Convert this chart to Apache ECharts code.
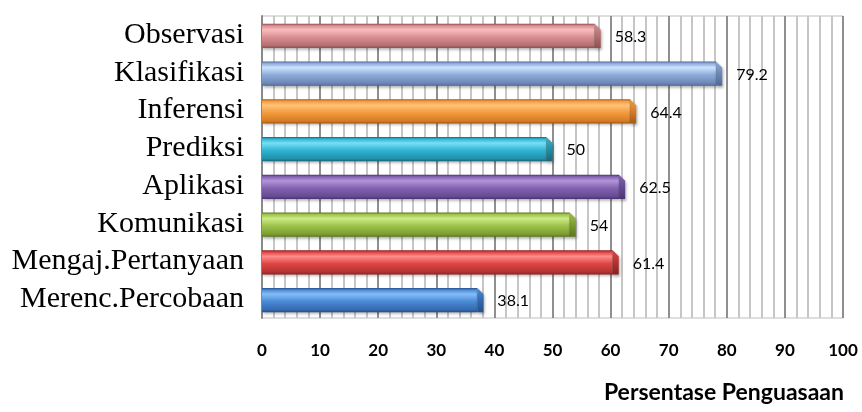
<!DOCTYPE html>
<html>
<head>
<meta charset="utf-8">
<script src="https://cdn.jsdelivr.net/npm/echarts@6/dist/echarts.min.js"></script>
<style>
  html, body { margin: 0; padding: 0; background: #fff; }
  #chart { width: 862px; height: 412px; }
</style>
</head>
<body>
<div id="chart"></div>
<script>
// Aspects of science process skills (top to bottom)
const categories = [
  'Observasi', 'Klasifikasi', 'Inferensi', 'Prediksi',
  'Aplikasi', 'Komunikasi', 'Mengaj.Pertanyaan', 'Merenc.Percobaan'
];
// Mastery percentage per aspect
const values = [58.3, 79.2, 64.4, 50, 62.5, 54, 61.4, 38.1];
// Axis tick values
const xTicks = [0, 10, 20, 30, 40, 50, 60, 70, 80, 90, 100];

// Bar shading: [highlight, middle, bottom, edge]
const barShades = [
  ['#f9bcbe', '#d98f92', '#b46f71', '#8e4e50'],
  ['#cde3ff', '#8eabd8', '#6c87b7', '#4f6896'],
  ['#ffc47a', '#f49b40', '#d67c24', '#a65a12'],
  ['#78def5', '#30b5d2', '#2090a9', '#16677a'],
  ['#b594da', '#8363b1', '#654a92', '#4b3470'],
  ['#cdeb86', '#9dc24b', '#7c9d31', '#5b7520'],
  ['#ff8e8c', '#de4644', '#b53231', '#8a2020'],
  ['#86bdf7', '#4a8bd7', '#3569b0', '#24508a']
];

const chart = echarts.init(document.getElementById('chart'), null, { renderer: 'canvas' });

function renderBar(params, api) {
  const idx = api.value(1);
  const val = api.value(0);
  const start = api.coord([0, idx]);
  const end = api.coord([val, idx]);
  const band = api.size([0, 1])[1];
  const h = band * 0.64;
  const x0 = start[0];
  const x1 = end[0];
  const y0 = start[1] - h / 2 + 1;
  const y1 = y0 + h;
  const s = barShades[idx];
  const b = 6;
  const grad = new echarts.graphic.LinearGradient(0, 0, 0, 1, [
    { offset: 0, color: s[3] },
    { offset: 0.08, color: s[1] },
    { offset: 0.25, color: s[0] },
    { offset: 0.55, color: s[1] },
    { offset: 0.9, color: s[2] },
    { offset: 1, color: s[3] }
  ]);
  const faceGrad = new echarts.graphic.LinearGradient(0, 0, 0, 1, [
    { offset: 0, color: s[1] },
    { offset: 0.5, color: s[2] },
    { offset: 1, color: s[3] }
  ]);
  return {
    type: 'group',
    children: [
      {
        type: 'polygon',
        shape: { points: [[x0, y0], [x1 - b, y0], [x1 - b, y1], [x0, y1]] },
        style: {
          fill: grad,
          shadowBlur: 3,
          shadowOffsetY: 2,
          shadowOffsetX: 1,
          shadowColor: 'rgba(0,0,0,0.35)'
        }
      },
      {
        type: 'polygon',
        shape: { points: [[x1 - b, y0], [x1, y0 + b], [x1, y1], [x1 - b, y1]] },
        style: {
          fill: faceGrad,
          shadowBlur: 3,
          shadowOffsetY: 2,
          shadowOffsetX: 1,
          shadowColor: 'rgba(0,0,0,0.35)'
        }
      },
      {
        type: 'line',
        shape: { x1: x1 - b, y1: y0 + 0.5, x2: x1 - b, y2: y1 },
        style: { stroke: 'rgba(0,0,0,0.12)', lineWidth: 1 }
      },
      {
        type: 'text',
        x: x1 + 14,
        y: (y0 + y1) / 2 + 1,
        style: {
          text: String(val),
          fill: '#000',
          font: '16px Lato, "Open Sans", sans-serif',
          verticalAlign: 'middle',
          align: 'left'
        }
      }
    ]
  };
}

chart.setOption({
  animation: false,
  backgroundColor: '#ffffff',
  title: {
    text: 'Persentase Penguasaan',
    right: 13,
    top: 376,
    textStyle: {
      fontFamily: 'Lato, "Open Sans", sans-serif',
      fontWeight: 'bold',
      fontSize: 23,
      color: '#000'
    }
  },
  grid: {
    left: 262,
    right: 19,
    top: 16,
    bottom: 94,
    show: true,
    borderColor: '#bdbdbd',
    borderWidth: 1,
    backgroundColor: 'transparent'
  },
  xAxis: {
    type: 'value',
    min: xTicks[0],
    max: xTicks[xTicks.length - 1],
    interval: 10,
    axisLine: { show: false },
    axisTick: { show: false },
    axisLabel: {
      margin: 24,
      fontFamily: 'Lato, "Open Sans", sans-serif',
      fontWeight: 'bold',
      fontSize: 17,
      color: '#000'
    },
    splitLine: { show: true, lineStyle: { color: '#8f8f8f', width: 2 } },
    minorTick: { show: false, splitNumber: 5 },
    minorSplitLine: { show: true, lineStyle: { color: '#c6c6c6', width: 2 } }
  },
  yAxis: {
    type: 'category',
    data: categories,
    inverse: true,
    axisLine: { show: true, lineStyle: { color: '#8a8a8a', width: 2 } },
    axisTick: { show: false },
    axisLabel: {
      interval: 0,
      margin: 18,
      fontFamily: '"Liberation Serif", "Times New Roman", serif',
      fontSize: 30,
      color: '#000'
    }
  },
  series: [{
    type: 'custom',
    renderItem: renderBar,
    encode: { x: 0, y: 1 },
    data: values.map((v, i) => [v, i]),
    z: 5
  }]
});
</script>
</body>
</html>
